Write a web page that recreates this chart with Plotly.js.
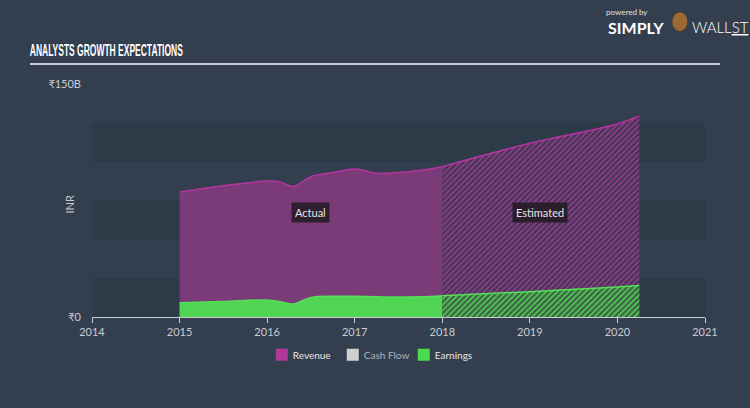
<!DOCTYPE html>
<html><head><meta charset="utf-8">
<script src="https://cdn.plot.ly/plotly-3.0.1.min.js"></script>
<style>html,body{margin:0;padding:0;background:#333f4f;}#chart{width:750px;height:408px;}</style>
</head><body><div id="chart"></div>
<script>
// Data (values in billions INR), x as fractional years
const revActualX = [2015, 2015.5, 2016, 2016.15, 2016.3, 2016.5, 2016.75, 2017, 2017.25, 2017.5, 2017.75, 2018];
const revActualY = [80.5, 84.5, 87.5, 87.0, 84.0, 90.3, 93.0, 95.3, 92.5, 93.0, 94.5, 96.8];
const revEstX = [2018, 2019, 2020, 2020.25];
const revEstY = [96.8, 111.8, 124.3, 129.4];
const earnActualX = [2015, 2015.5, 2016, 2016.15, 2016.3, 2016.5, 2016.75, 2017, 2017.25, 2017.5, 2017.75, 2018];
const earnActualY = [9.2, 10.0, 10.9, 9.8, 8.4, 12.6, 13.4, 13.3, 13.0, 12.8, 13.0, 13.7];
const earnEstX = [2018, 2019, 2020, 2020.25];
const earnEstY = [13.7, 16.3, 19.3, 20.2];
const xTicks = [2014, 2015, 2016, 2017, 2018, 2019, 2020, 2021];
const yTickVals = [0, 150];
const yTickText = ['₹0', '₹150B'];
const bandRanges = [[0, 25], [50, 75], [100, 125]];

const font = 'Lato, "Open Sans", sans-serif';
const traces = [
  {x: revActualX, y: revActualY, type: 'scatter', mode: 'lines', fill: 'tozeroy',
   fillcolor: '#7b3a78', line: {color: '#b5349f', width: 1.5, shape: 'spline'}, showlegend: false, hoverinfo: 'skip'},
  {x: revEstX, y: revEstY, type: 'scatter', mode: 'lines', fill: 'tozeroy',
   fillcolor: 'rgba(0,0,0,0)',
   fillpattern: {shape: '/', fgcolor: '#8d3b87', bgcolor: '#3d3651', size: 4, solidity: 0.5},
   line: {color: '#b5349f', width: 1.5, shape: 'spline'}, showlegend: false, hoverinfo: 'skip'},
  {x: earnActualX, y: earnActualY, type: 'scatter', mode: 'lines', fill: 'tozeroy',
   fillcolor: '#4fd553', line: {color: '#55e055', width: 1.5, shape: 'spline'}, showlegend: false, hoverinfo: 'skip'},
  {x: earnEstX, y: earnEstY, type: 'scatter', mode: 'lines', fill: 'tozeroy',
   fillcolor: 'rgba(0,0,0,0)',
   fillpattern: {shape: '/', fgcolor: '#4fc54f', bgcolor: '#3c5a48', size: 4, solidity: 0.5},
   line: {color: '#55e055', width: 1.5, shape: 'spline'}, showlegend: false, hoverinfo: 'skip'},
  {x: [null], y: [null], type: 'bar', name: 'Revenue', marker: {color: '#b0399a'}},
  {x: [null], y: [null], type: 'bar', name: 'Cash Flow', marker: {color: '#d0d0d0'}},
  {x: [null], y: [null], type: 'bar', name: 'Earnings', marker: {color: '#4ddb4d'}}
];

const shapes = bandRanges.map(b => ({type: 'rect', xref: 'paper', yref: 'y', x0: 0, x1: 1, y0: b[0], y1: b[1],
  fillcolor: '#2d3a48', line: {width: 0}, layer: 'below'}));
shapes.push({type: 'line', xref: 'paper', yref: 'paper', x0: -0.1011, x1: 1.0245, y0: 1.086, y1: 1.086,
  line: {color: '#c8ccd2', width: 2}});
shapes.push({type: 'circle', xref: 'paper', yref: 'paper', x0: 0.946, x1: 0.972, y0: 1.225, y1: 1.31,
  fillcolor: '#9a6a32', line: {color: '#3a3a3a', width: 1}});

const layout = {
  width: 750, height: 408,
  paper_bgcolor: '#333f4f', plot_bgcolor: 'rgba(0,0,0,0)',
  margin: {l: 92, r: 45, t: 84, b: 91},
  font: {family: font, color: '#c8ccd2', size: 11},
  showlegend: true,
  legend: {orientation: 'h', x: 0.436, xanchor: 'center', y: -0.1, yanchor: 'top',
    font: {color: '#e6e6e6', size: 10, family: font}, itemwidth: 30, entrywidth: 26, entrywidthmode: 'pixels',
    bgcolor: 'rgba(0,0,0,0)'},
  xaxis: {range: [2014, 2021], tickvals: xTicks, ticktext: xTicks.map(String), showgrid: false, zeroline: false,
    showline: true, linecolor: '#c8ccd2', linewidth: 1, ticks: 'outside', ticklen: 5, tickcolor: '#c8ccd2',
    tickfont: {size: 11, color: '#c8ccd2'}, fixedrange: true},
  yaxis: {range: [0, 150], tickvals: yTickVals, ticktext: yTickText, showgrid: false, zeroline: false,
    showline: false, ticks: '', ticklabelstandoff: 10, tickfont: {size: 11, color: '#c8ccd2'}, fixedrange: true},
  shapes: shapes,
  annotations: [
    {xref: 'paper', yref: 'paper', x: 0.0237, y: 1.1, xanchor: 'center', yanchor: 'bottom', showarrow: false,
     text: '<b>ANALYSTS GROWTH EXPECTATIONS</b>',
     font: {family: '"Liberation Sans", sans-serif', size: 16, color: '#ffffff'}},
    {xref: 'paper', yref: 'paper', x: -0.049, y: 0.485, showarrow: false, textangle: -90,
     text: 'INR', font: {size: 11, color: '#c8ccd2'}},
    {x: 2016.5, y: 67, xref: 'x', yref: 'y', showarrow: false, text: 'Actual', bgcolor: '#2e1f30',
     font: {size: 11, color: '#e6e6e6'}, borderpad: 3},
    {x: 2019.12, y: 67, xref: 'x', yref: 'y', showarrow: false, text: 'Estimated', bgcolor: '#2a1e2c',
     font: {size: 11, color: '#e6e6e6'}, borderpad: 3},
    {xref: 'paper', yref: 'paper', x: 0.873, y: 1.309, xanchor: 'center', yanchor: 'middle', showarrow: false,
     text: 'powered by', font: {size: 8, color: '#e0e0e0'}},
    {xref: 'paper', yref: 'paper', x: 0.887, y: 1.243, xanchor: 'center', yanchor: 'middle', showarrow: false,
     text: '<b>SIMPLY</b>', font: {size: 16, color: '#ffffff'}},
    {xref: 'paper', yref: 'paper', x: 0.9755, y: 1.245, xanchor: 'left', yanchor: 'middle', showarrow: false,
     text: 'WALL<u>ST</u>', font: {size: 15, color: '#ffffff', weight: 300}}
  ]
};
Plotly.newPlot('chart', traces, layout, {displayModeBar: false, staticPlot: true}).then(() => {
  // condense the title text horizontally to match the condensed headline font
  document.querySelectorAll('.annotation-text').forEach(t => {
    if (t.textContent === 'ANALYSTS GROWTH EXPECTATIONS') {
      t.setAttribute('textLength', '153');
      t.setAttribute('lengthAdjust', 'spacingAndGlyphs');
    }
  });
  // let the last legend label extend beyond the compact entry width
  document.querySelectorAll('clipPath[id^="legend"] rect').forEach(r => {
    r.setAttribute('width', String((+r.getAttribute('width') || 0) + 60));
  });
  // bring legend swatches closer to their labels
  document.querySelectorAll('.legend .legendsymbols').forEach(g => {
    g.setAttribute('transform', 'translate(9,0)');
  });
  document.querySelectorAll('.legend .legendtext').forEach(t => {
    if (t.textContent === 'Cash Flow') t.style.fill = '#aeb4bb';
  });
});
</script></body></html>
